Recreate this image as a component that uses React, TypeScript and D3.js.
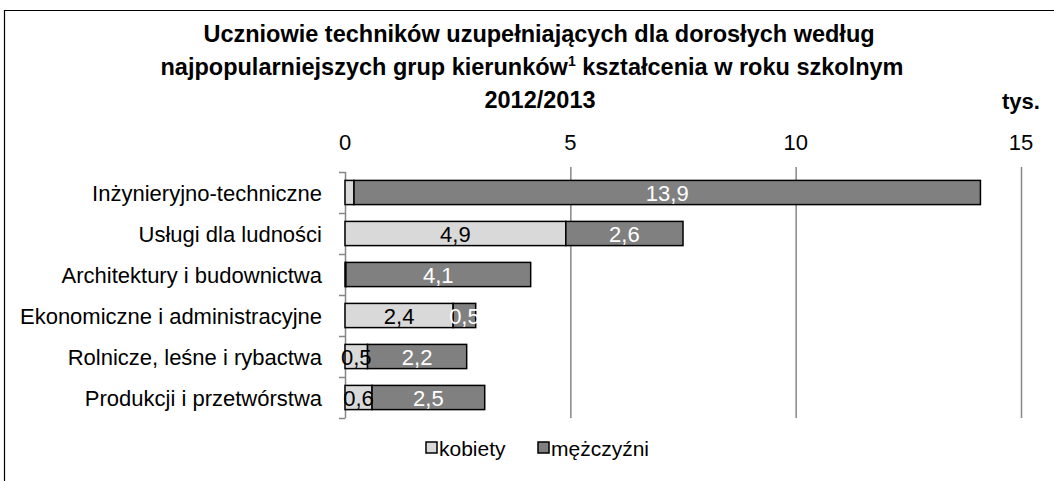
import { useEffect, useRef } from "react";
import * as d3 from "d3";

const categories = [
  "Inżynieryjno-techniczne",
  "Usługi dla ludności",
  "Architektury i budownictwa",
  "Ekonomiczne i administracyjne",
  "Rolnicze, leśne i rybactwa",
  "Produkcji i przetwórstwa",
];
const kobiety = [0.2, 4.9, 0.02, 2.4, 0.5, 0.6];
const mezczyzni = [13.9, 2.6, 4.1, 0.5, 2.2, 2.5];
const xTicks = [0, 5, 10, 15];
const seriesNames = ["kobiety", "mężczyźni"];

const W = 1054;
const H = 481;
const FONT = "'Liberation Sans', Arial, sans-serif";
const LIGHT = "#d9d9d9";
const DARK = "#808080";
const GRID = "#868686";

const fmt = (v: number) => v.toFixed(1).replace(".", ",");

export default function App() {
  const svgRef = useRef<SVGSVGElement>(null);

  useEffect(() => {
    const svg = d3.select(svgRef.current);
    svg.selectAll("*").remove();

    // frame
    svg
      .append("path")
      .attr("d", `M4.5,${H + 2} V10.5 H${W + 2}`)
      .attr("fill", "none")
      .attr("stroke", "#000")
      .attr("stroke-width", 1.2);

    // title
    const title = svg
      .append("text")
      .attr("text-anchor", "middle")
      .attr("font-family", FONT)
      .attr("font-weight", "bold")
      .attr("font-size", 23.5)
      .attr("fill", "#000");
    title.append("tspan").attr("x", 539).attr("y", 42).text("Uczniowie techników uzupełniających dla dorosłych według");
    const l2 = title.append("tspan").attr("x", 532).attr("y", 75);
    l2.append("tspan").text("najpopularniejszych grup kierunków");
    l2.append("tspan").attr("font-size", 14).attr("dy", -9).text("1");
    l2.append("tspan").attr("dy", 9).text(" kształcenia w roku szkolnym");
    title.append("tspan").attr("x", 540).attr("y", 108).text("2012/2013");

    svg
      .append("text")
      .attr("x", 1021)
      .attr("y", 109)
      .attr("text-anchor", "middle")
      .attr("font-family", FONT)
      .attr("font-weight", "bold")
      .attr("font-size", 22)
      .text("tys.");

    const x = d3.scaleLinear().domain([0, 15]).range([345, 1021]);
    const y = d3.scaleBand().domain(categories).range([172, 418]).paddingInner(0.41).paddingOuter(0.205);

    // gridlines
    svg
      .append("g")
      .selectAll("line")
      .data(xTicks.filter((t) => t > 0))
      .enter()
      .append("line")
      .attr("x1", (d) => x(d) + 0.5)
      .attr("x2", (d) => x(d) + 0.5)
      .attr("y1", 167)
      .attr("y2", 418)
      .attr("stroke", GRID)
      .attr("stroke-width", 1.5);

    // top axis labels
    svg
      .append("g")
      .selectAll("text")
      .data(xTicks)
      .enter()
      .append("text")
      .attr("x", (d) => x(d))
      .attr("y", 150)
      .attr("text-anchor", "middle")
      .attr("font-family", FONT)
      .attr("font-size", 22)
      .text((d) => String(d));

    // category axis
    const step = y.step();
    const boundaries = d3.range(categories.length + 1).map((i) => 172 + i * step);
    svg
      .append("line")
      .attr("x1", 345.5)
      .attr("x2", 345.5)
      .attr("y1", 172)
      .attr("y2", 418)
      .attr("stroke", GRID)
      .attr("stroke-width", 1.5);
    svg
      .append("g")
      .selectAll("line")
      .data(boundaries)
      .enter()
      .append("line")
      .attr("x1", 339)
      .attr("x2", 345.5)
      .attr("y1", (d) => d + 0.5)
      .attr("y2", (d) => d + 0.5)
      .attr("stroke", GRID)
      .attr("stroke-width", 1.5);

    svg
      .append("g")
      .selectAll("text")
      .data(categories)
      .enter()
      .append("text")
      .attr("x", 322)
      .attr("y", (d) => (y(d) as number) + y.bandwidth() / 2 + 8)
      .attr("text-anchor", "end")
      .attr("font-family", FONT)
      .attr("font-size", 22)
      .text((d) => d);

    // bars
    const rows = categories.map((c, i) => ({
      cat: c,
      segs: [
        { x0: 0, x1: kobiety[i], v: kobiety[i], fill: LIGHT, text: "#000" },
        { x0: kobiety[i], x1: kobiety[i] + mezczyzni[i], v: mezczyzni[i], fill: DARK, text: "#fff" },
      ],
    }));

    rows.forEach((r) => {
      const g = svg.append("g");
      const y0 = y(r.cat) as number;
      r.segs.forEach((s) => {
        g.append("rect")
          .attr("x", x(s.x0))
          .attr("y", y0)
          .attr("width", x(s.x1) - x(s.x0))
          .attr("height", y.bandwidth())
          .attr("fill", s.fill)
          .attr("stroke", "#000")
          .attr("stroke-width", 1.5);
      });
      r.segs.forEach((s) => {
        if (s.v < 0.3) return;
        g.append("text")
          .attr("x", (x(s.x0) + x(s.x1)) / 2)
          .attr("y", y0 + y.bandwidth() / 2 + 8)
          .attr("text-anchor", "middle")
          .attr("font-family", FONT)
          .attr("font-size", 22)
          .attr("fill", s.text)
          .text(fmt(s.v));
      });
    });

    // legend
    const legend = svg.append("g");
    const lx = [426, 538];
    seriesNames.forEach((name, i) => {
      legend
        .append("rect")
        .attr("x", lx[i])
        .attr("y", 442)
        .attr("width", 11)
        .attr("height", 11)
        .attr("fill", i === 0 ? LIGHT : DARK)
        .attr("stroke", "#000")
        .attr("stroke-width", 1.5);
      legend
        .append("text")
        .attr("x", lx[i] + 13)
        .attr("y", 456)
        .attr("font-family", FONT)
        .attr("font-size", 21)
        .text(name);
    });
  }, []);

  return (
    <svg
      ref={svgRef}
      width={W}
      height={H}
      style={{ position: "absolute", left: 0, top: 0, background: "#fff" }}
    />
  );
}
